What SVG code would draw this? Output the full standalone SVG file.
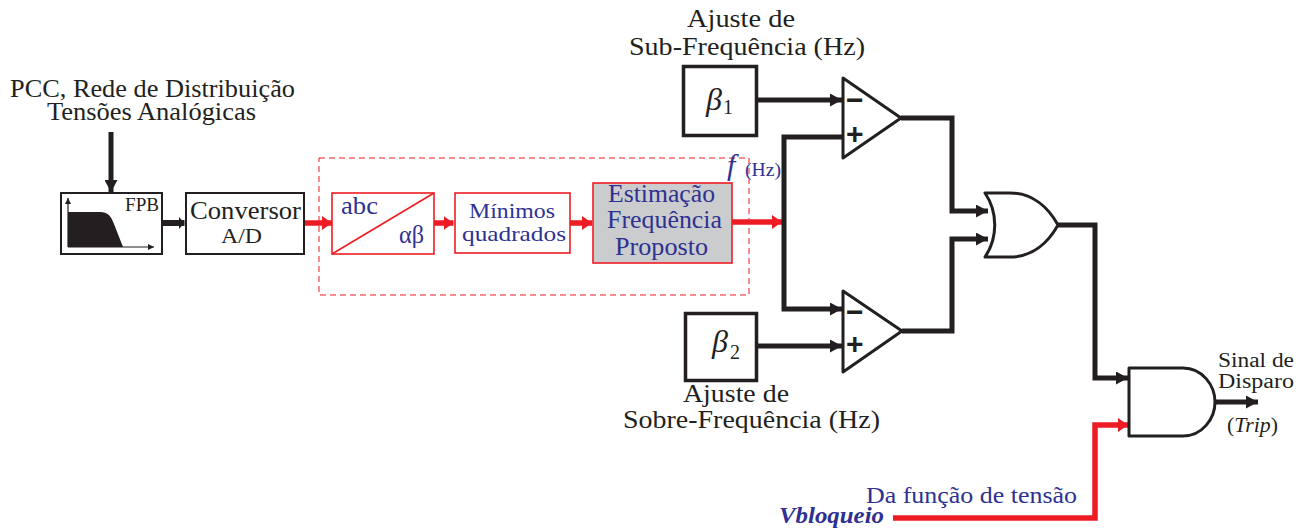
<svg xmlns="http://www.w3.org/2000/svg" width="1311" height="531" viewBox="0 0 1311 531">
<style>
text{font-family:"Liberation Serif","DejaVu Serif",serif;fill:#231f20;font-size:25px}
.b{fill:#2e3192}
.sym{font-family:"Liberation Sans",Arial,sans-serif;font-size:30px;font-weight:bold}
.beta{font-size:32px;font-style:italic}
.box{fill:#fff;stroke:#231f20;stroke-width:2}
.thick{fill:#fff;stroke:#231f20;stroke-width:3.5}
.rbox{fill:#fff;stroke:#ed1c24;stroke-width:1.6}
.k{fill:none;stroke:#231f20;stroke-width:5;marker-end:url(#ka)}
.r{fill:none;stroke:#ed1c24;stroke-width:5.500;marker-end:url(#ra)}
.gate{fill:#fff;stroke:#231f20;stroke-width:3;stroke-linejoin:round}
</style>
<defs>
<marker id="ka" markerUnits="userSpaceOnUse" markerWidth="12" markerHeight="13" refX="12" refY="6.500" orient="auto"><path d="M0 0L12 6.500L0 13z" fill="#231f20"/></marker>
<marker id="ks" markerUnits="userSpaceOnUse" markerWidth="6" markerHeight="13" refX="6" refY="6.500" orient="auto"><path d="M0 0L6 6.500L0 13z" fill="#231f20"/></marker>
<marker id="ra" markerUnits="userSpaceOnUse" markerWidth="10" markerHeight="14" refX="10" refY="7" orient="auto"><path d="M0 0L10 7L0 14z" fill="#ed1c24"/></marker>
<marker id="sa" markerUnits="userSpaceOnUse" markerWidth="6" markerHeight="6" refX="6" refY="3" orient="auto"><path d="M0 0L6 3L0 6z" fill="#231f20"/></marker>
</defs>
<g id="connectors">
<path class="k" d="M111 132V192"/>
<path class="k" style="stroke-width:6;marker-end:url(#ks)" d="M162 223H184.500"/>
<path class="r" d="M304 223H332"/>
<path class="r" d="M434 223H453.500"/>
<path class="r" d="M570 223H592"/>
<path class="r" d="M732 222H782"/>
<path class="k" d="M757 100H842"/>
<path class="k" d="M842 137H784V309H842"/>
<path class="k" d="M757 346H842"/>
<path class="k" d="M901 118H952V211H988"/>
<path class="k" d="M902 331H952V239H988"/>
<path class="k" d="M1058 225H1095V378H1128"/>
<path class="r" d="M893 518H1095V425H1128"/>
<path class="k" d="M1215 402H1258"/>
</g>
<g id="input-label">
<text x="10" y="97" textLength="285" lengthAdjust="spacingAndGlyphs">PCC, Rede de Distribuição</text>
<text x="47" y="120" textLength="209" lengthAdjust="spacingAndGlyphs">Tensões Analógicas</text>
</g>
<g id="fpb">
<rect class="box" x="61" y="193" width="101" height="61"/>
<path d="M68 212H100C108 212 111 216 114 224L123 247H68z" fill="#231f20"/>
<path d="M68 247V198" fill="none" stroke="#231f20" stroke-width="1.200" marker-end="url(#sa)"/>
<path d="M68 247H154" fill="none" stroke="#231f20" stroke-width="1.200" marker-end="url(#sa)"/>
<text x="125" y="211" style="font-size:18px" textLength="34" lengthAdjust="spacingAndGlyphs">FPB</text>
</g>
<g id="conversor">
<rect class="box" x="186" y="193" width="118" height="61"/>
<text x="190" y="219" textLength="111" lengthAdjust="spacingAndGlyphs">Conversor</text>
<text x="221" y="243" style="font-size:20px" textLength="41" lengthAdjust="spacingAndGlyphs">A/D</text>
</g>
<g id="region"><rect x="319" y="158" width="430" height="137" fill="none" stroke="#ed1c24" stroke-width="1" stroke-dasharray="6 4"/></g>
<g id="abc">
<rect class="rbox" x="332" y="193" width="102" height="61"/>
<path d="M332 254L434 193" stroke="#ed1c24" stroke-width="1.600" fill="none"/>
<text class="b" x="341" y="214" style="font-size:25px" textLength="37" lengthAdjust="spacingAndGlyphs">abc</text>
<text class="b" x="399" y="243" style="font-size:25px" textLength="25" lengthAdjust="spacingAndGlyphs">αβ</text>
</g>
<g id="minimos">
<rect class="rbox" x="455" y="193" width="115" height="60"/>
<text class="b" x="469" y="218" style="font-size:22px" textLength="86" lengthAdjust="spacingAndGlyphs">Mínimos</text>
<text class="b" x="462" y="241" style="font-size:22px" textLength="104" lengthAdjust="spacingAndGlyphs">quadrados</text>
</g>
<g id="estimacao">
<rect x="593" y="183" width="139" height="80" fill="#cbccce" stroke="#ed1c24" stroke-width="1.600"/>
<text class="b" x="608" y="202" textLength="107" lengthAdjust="spacingAndGlyphs">Estimação</text>
<text class="b" x="607" y="228" textLength="115" lengthAdjust="spacingAndGlyphs">Frequência</text>
<text class="b" x="615" y="255" textLength="93" lengthAdjust="spacingAndGlyphs">Proposto</text>
</g>
<g id="freq-label">
<text class="b" x="727" y="175" style="font-size:30px;font-style:italic">f</text>
<text class="b" x="745" y="176" style="font-size:19px" textLength="36" lengthAdjust="spacingAndGlyphs">(Hz)</text>
</g>
<g id="beta1">
<text x="687" y="27" textLength="108" lengthAdjust="spacingAndGlyphs">Ajuste de</text>
<text x="629" y="55" textLength="236" lengthAdjust="spacingAndGlyphs">Sub-Frequência (Hz)</text>
<rect class="thick" x="683.500" y="66.500" width="73" height="69"/>
<text class="beta" x="706" y="110">β</text>
<text x="723" y="114" style="font-size:20px">1</text>
</g>
<g id="beta2">
<rect class="thick" x="685.500" y="313.500" width="71" height="67"/>
<text class="beta" x="712" y="352">β</text>
<text x="730" y="359" style="font-size:20px">2</text>
<text x="683" y="402" textLength="106" lengthAdjust="spacingAndGlyphs">Ajuste de</text>
<text x="623" y="428" textLength="257" lengthAdjust="spacingAndGlyphs">Sobre-Frequência (Hz)</text>
</g>
<g id="comp1">
<path class="gate" d="M843 78V158L901 118z"/>
<text class="sym" x="846" y="110">−</text>
<text class="sym" x="846" y="144">+</text>
</g>
<g id="comp2">
<path class="gate" d="M843 291V372L902 331z"/>
<text class="sym" x="846" y="322">−</text>
<text class="sym" x="846" y="354">+</text>
</g>
<g id="or-gate"><path class="gate" d="M985 193H1010C1032 193 1048 207 1058 225C1048 243 1032 257 1010 257H985C998 238 998 212 985 193z"/></g>
<g id="and-gate"><path class="gate" d="M1129 368H1183C1202 368 1215 385 1215 402C1215 419 1202 436 1183 436H1129z"/></g>
<g id="output-label">
<text x="1218" y="367" style="font-size:20px" textLength="76" lengthAdjust="spacingAndGlyphs">Sinal de</text>
<text x="1218" y="388" style="font-size:20px" textLength="76" lengthAdjust="spacingAndGlyphs">Disparo</text>
<text x="1227" y="432" style="font-size:20px" textLength="51" lengthAdjust="spacingAndGlyphs">(<tspan font-style="italic">Trip</tspan>)</text>
</g>
<g id="vbloqueio">
<text class="b" x="866" y="503" style="font-size:24px" textLength="211" lengthAdjust="spacingAndGlyphs">Da função de tensão</text>
<text class="b" x="779" y="523" style="font-size:24px;font-weight:bold;font-style:italic" textLength="105" lengthAdjust="spacingAndGlyphs">Vbloqueio</text>
</g>
</svg>
